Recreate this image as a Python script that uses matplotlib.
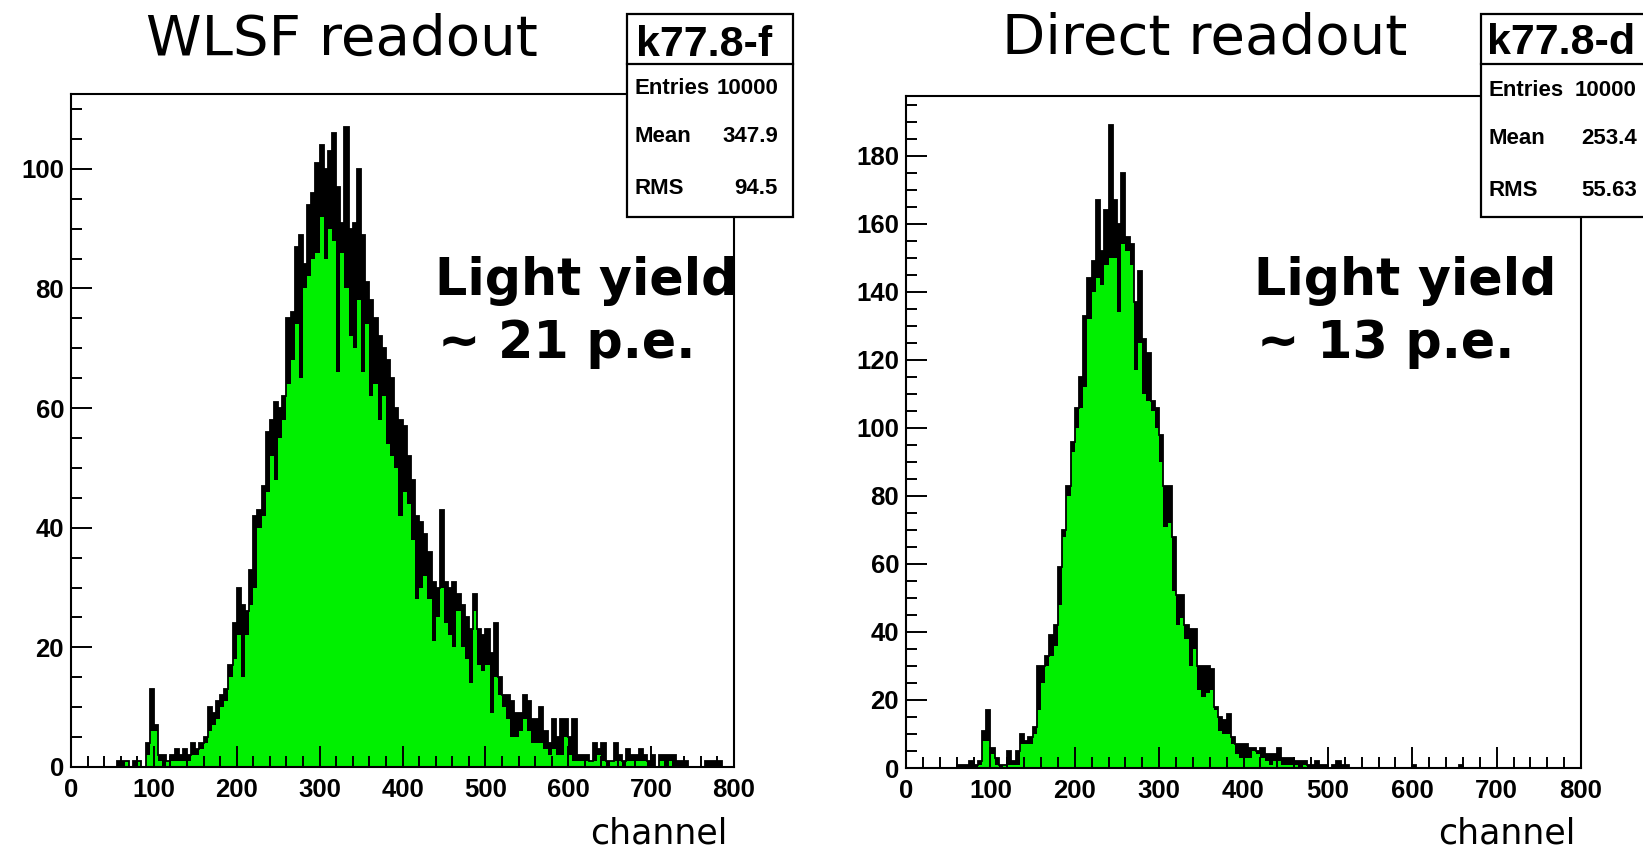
"""Two ROOT-style light-yield histograms: WLSF vs direct readout."""

import matplotlib
matplotlib.use("Agg")
import matplotlib.pyplot as plt
import numpy as np
from matplotlib.lines import Line2D
from matplotlib.patches import Rectangle
from matplotlib.ticker import MultipleLocator

# channel bins, 5 channels wide
EDGES = np.arange(0, 805, 5)

# WLSF readout: max / min count inside each 5-channel group
wlsf_max = [
    0, 0, 0, 0, 0, 0, 0, 0, 0, 0, 0, 1, 1, 1, 0, 1, 1, 0, 4, 13,
    7, 2, 2, 1, 2, 3, 2, 3, 2, 4, 3, 4, 5, 10, 9, 11, 12, 13, 17, 24,
    30, 27, 26, 33, 42, 43, 47, 56, 58, 61, 60, 62, 75, 76, 87, 89, 84, 94, 96, 101,
    104, 100, 103, 106, 97, 91, 107, 90, 91, 100, 89, 81, 78, 75, 72, 70, 68, 65, 60, 58,
    57, 52, 48, 42, 41, 39, 36, 31, 30, 43, 31, 30, 31, 29, 27, 25, 23, 29, 23, 22,
    23, 19, 24, 15, 12, 12, 11, 9, 9, 12, 11, 8, 8, 10, 6, 4, 8, 5, 8, 8,
    5, 8, 2, 2, 2, 1, 4, 3, 4, 1, 1, 4, 2, 1, 3, 2, 2, 3, 2, 1,
    2, 0, 2, 2, 2, 2, 1, 1, 1, 0, 0, 0, 0, 1, 1, 1, 1, 0, 0, 0,
]
wlsf_min = [
    0, 0, 0, 0, 0, 0, 0, 0, 0, 0, 0, 0, 0, 1, 0, 0, 1, 0, 2, 6,
    6, 1, 0, 1, 1, 1, 1, 1, 1, 2, 2, 3, 4, 6, 7, 8, 10, 11, 15, 18,
    22, 15, 22, 27, 30, 40, 42, 46, 52, 48, 55, 58, 64, 68, 74, 65, 80, 82, 85, 86,
    92, 85, 90, 88, 66, 86, 80, 72, 70, 78, 66, 74, 62, 64, 58, 62, 54, 52, 50, 42,
    46, 44, 38, 28, 30, 32, 28, 21, 25, 30, 24, 22, 20, 26, 20, 18, 14, 26, 17, 16,
    17, 9, 15, 12, 10, 8, 5, 5, 6, 8, 6, 4, 4, 4, 3, 2, 3, 2, 2, 5,
    2, 1, 1, 1, 1, 1, 1, 2, 1, 0, 1, 1, 1, 0, 1, 1, 1, 1, 1, 0,
    0, 0, 1, 0, 1, 0, 0, 0, 0, 0, 0, 0, 0, 0, 0, 0, 0, 0, 0, 0,
]

# direct readout
direct_max = [
    0, 0, 0, 0, 0, 0, 0, 0, 0, 0, 0, 0, 1, 1, 1, 2, 1, 2, 11, 17,
    6, 3, 1, 1, 5, 2, 5, 10, 8, 9, 12, 30, 30, 33, 39, 42, 59, 70, 83, 96,
    106, 115, 133, 144, 149, 167, 152, 164, 189, 167, 160, 175, 156, 154, 137, 146, 126, 122, 108, 106,
    98, 83, 83, 68, 51, 51, 42, 41, 41, 30, 30, 30, 29, 18, 15, 14, 16, 9, 7, 7,
    7, 6, 6, 5, 6, 4, 4, 4, 6, 3, 3, 3, 2, 2, 2, 1, 1, 2, 1, 1,
    0, 1, 2, 1, 1, 0, 0, 0, 0, 0, 0, 0, 0, 0, 0, 0, 0, 0, 0, 0,
    1, 0, 0, 0, 0, 0, 0, 0, 0, 0, 0, 1, 0, 0, 0, 0, 0, 0, 0, 0,
    0, 0, 0, 0, 0, 0, 0, 0, 0, 0, 0, 0, 0, 0, 0, 0, 0, 0, 0, 0,
]
direct_min = [
    0, 0, 0, 0, 0, 0, 0, 0, 0, 0, 0, 0, 0, 0, 0, 0, 0, 1, 8, 8,
    4, 1, 0, 1, 1, 1, 1, 7, 7, 7, 10, 17, 25, 30, 33, 36, 48, 68, 80, 93,
    100, 106, 112, 132, 140, 144, 142, 148, 150, 150, 134, 154, 152, 148, 117, 125, 110, 108, 105, 100,
    90, 71, 72, 52, 42, 44, 38, 30, 35, 23, 21, 22, 23, 17, 11, 10, 10, 7, 4, 3,
    3, 3, 5, 4, 3, 2, 1, 2, 2, 1, 1, 1, 1, 0, 1, 0, 0, 0, 0, 0,
    0, 0, 0, 0, 0, 0, 0, 0, 0, 0, 0, 0, 0, 0, 0, 0, 0, 0, 0, 0,
    0, 0, 0, 0, 0, 0, 0, 0, 0, 0, 0, 0, 0, 0, 0, 0, 0, 0, 0, 0,
    0, 0, 0, 0, 0, 0, 0, 0, 0, 0, 0, 0, 0, 0, 0, 0, 0, 0, 0, 0,
]

titles = ["WLSF readout", "Direct readout"]
hist_names = ["k77.8-f", "k77.8-d"]
stats = [
    [("Entries", "10000"), ("Mean", "347.9"), ("RMS", "94.5")],
    [("Entries", "10000"), ("Mean", "253.4"), ("RMS", "55.63")],
]
yields = ["~ 21 p.e.", "~ 13 p.e."]
x_ticks = list(range(0, 801, 100))
y_ticks = [list(range(0, 101, 20)), list(range(0, 181, 20))]
y_max = [112.5, 197.6]

GREEN = "#00f000"
ROOT_FONT = ["Liberation Sans", "DejaVu Sans"]
W, H = 1643, 848

fig = plt.figure(figsize=(W / 100, H / 100), dpi=100)


def fx(x):
    return x / W


def fy(y):
    return 1 - y / H


def draw_panel(rect, upper, lower, ymax, yt):
    x0, y0, x1, y1 = rect
    ax = fig.add_axes([fx(x0), fy(y1), (x1 - x0) / W, (y1 - y0) / H])
    ax.stairs(upper, EDGES, fill=True, color="black", lw=0)
    ax.stairs(lower, EDGES, fill=True, color=GREEN, lw=0)
    ax.stairs(upper, EDGES, color="black", lw=1.3)
    ax.set_xlim(0, 800)
    ax.set_ylim(0, ymax)
    ax.set_xticks(x_ticks)
    ax.set_xticklabels([str(t) for t in x_ticks], fontsize=18.5,
                       fontweight="bold", family=ROOT_FONT)
    ax.set_yticks(yt)
    ax.set_yticklabels([str(t) for t in yt], fontsize=18.5,
                       fontweight="bold", family=ROOT_FONT)
    ax.xaxis.set_minor_locator(MultipleLocator(20))
    ax.yaxis.set_minor_locator(MultipleLocator(5))
    ax.tick_params(which="both", direction="in", top=False, right=False,
                   width=1.4, color="black")
    ax.tick_params(which="major", length=15)
    ax.tick_params(which="minor", length=8)
    ax.tick_params(axis="x", pad=8)
    ax.tick_params(axis="y", pad=5)
    for s in ax.spines.values():
        s.set_linewidth(1.5)
    return ax


def stat_box(x0, x1, title_x, title_y, rows_y, name, rows):
    top, sep, bot = 14, 64, 217
    fig.add_artist(Rectangle((fx(x0), fy(bot)), (x1 - x0) / W, (bot - top) / H,
                             transform=fig.transFigure, facecolor="white",
                             edgecolor="black", lw=1.6, zorder=5))
    fig.add_artist(Line2D([fx(x0), fx(x1)], [fy(sep), fy(sep)],
                          transform=fig.transFigure, color="black", lw=1.6, zorder=6))
    fig.text(fx(title_x), fy(title_y), name, ha="center", va="baseline",
             family=ROOT_FONT, fontweight="bold", fontsize=31, zorder=7)
    for (lab, val), yy in zip(rows, rows_y):
        fig.text(fx(x0 + 8), fy(yy), lab, ha="left", va="center",
                 family=ROOT_FONT, fontweight="bold", fontsize=16, zorder=7)
        fig.text(fx(x1 - 15), fy(yy), val, ha="right", va="center",
                 family=ROOT_FONT, fontweight="bold", fontsize=16, zorder=7)


draw_panel((71, 94, 734, 767), wlsf_max, wlsf_min, y_max[0], y_ticks[0])
draw_panel((906, 96, 1581, 768), direct_max, direct_min, y_max[1], y_ticks[1])

# titles
fig.text(fx(342), fy(55), titles[0], ha="center", va="baseline", fontsize=40.5)
fig.text(fx(1205), fy(53.5), titles[1], ha="center", va="baseline", fontsize=40.5)

# light-yield notes
for xl, note in zip([435, 1254], yields):
    fig.text(fx(xl), fy(295), "Light yield", ha="left", va="baseline",
             fontsize=36.5, fontweight="bold")
    fig.text(fx(xl + 3), fy(358), note, ha="left", va="baseline",
             fontsize=36.5, fontweight="bold")

# axis titles
fig.text(fx(727), fy(844), "channel", ha="right", va="baseline", fontsize=25)
fig.text(fx(1575), fy(844), "channel", ha="right", va="baseline", fontsize=25)

# stat boxes
stat_box(627, 793, 704, 56, [88, 136, 188], hist_names[0], stats[0])
stat_box(1481, 1652, 1561, 54, [90, 138, 190], hist_names[1], stats[1])

fig.savefig("out.png", dpi=100)
